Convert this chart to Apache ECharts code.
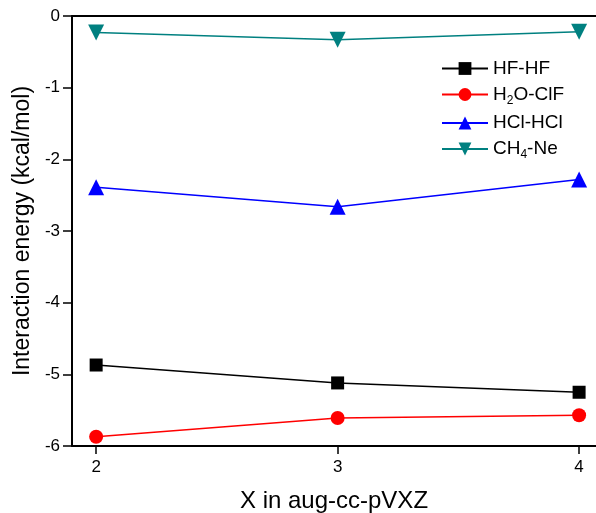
<!DOCTYPE html>
<html>
<head>
<meta charset="utf-8">
<script src="https://cdn.jsdelivr.net/npm/echarts@6/dist/echarts.min.js"></script>
<style>
  html, body { margin: 0; padding: 0; background: #fff; }
  #chart { width: 596px; height: 513px; }
</style>
</head>
<body>
<div id="chart"></div>
<script>
// basis set cardinal number X
const xValues = [2, 3, 4];
const hfhf = [-4.87, -5.12, -5.25];
const h2oclf = [-5.87, -5.61, -5.57];
const hclhcl = [-2.39, -2.66, -2.28];
const ch4ne = [-0.23, -0.33, -0.22];
const seriesNames = ['HF-HF', 'H2O-ClF', 'HCl-HCl', 'CH4-Ne'];

const pairs = arr => xValues.map((x, i) => [x, arr[i]]);
const font = 'Liberation Sans, Arial, sans-serif';

const chart = echarts.init(document.getElementById('chart'));

function mkSeries(name, data, color, symbol, size) {
    return {
        name: name,
        type: 'line',
        data: pairs(data),
        symbol: symbol,
        symbolSize: size,
        symbolRotate: 0,
        lineStyle: { color: color, width: 1.5 },
        itemStyle: { color: color },
        emphasis: { disabled: true }
    };
}

const tri = mkSeries(seriesNames[3], ch4ne, '#008080', 'triangle', 16);
tri.symbolRotate = 180;

chart.setOption({
    animation: false,
    grid: { left: 72, right: 0, top: 16, bottom: 67, containLabel: false, outerBoundsMode: 'none' },
    legend: {
        left: 436,
        top: 54,
        orient: 'vertical',
        itemWidth: 46,
        itemHeight: 16,
        itemGap: 7,
        data: seriesNames,
        formatter: function (n) {
            if (n === 'H2O-ClF') return '{t|H}{s|2}{t|O-ClF}';
            if (n === 'CH4-Ne') return '{t|CH}{s|4}{t|-Ne}';
            return '{t|' + n + '}';
        },
        textStyle: {
            fontFamily: font,
            fontSize: 19,
            color: '#000',
            rich: {
                t: { fontFamily: font, fontSize: 19, color: '#000', height: 22 },
                s: { fontFamily: font, fontSize: 12, color: '#000', padding: [12, 0, 0, 0] }
            }
        }
    },
    xAxis: [{
        type: 'value',
        min: 1.9,
        max: 4.07,
        interval: 1,
        position: 'bottom',
        name: 'X in aug-cc-pVXZ',
        nameLocation: 'middle',
        nameGap: 43,
        nameTextStyle: { fontFamily: font, fontSize: 24, color: '#000' },
        axisLine: { onZero: false, lineStyle: { color: '#000', width: 2 } },
        axisTick: { show: true, length: 8, lineStyle: { color: '#000', width: 1.5 }, customValues: xValues },
        axisLabel: { fontFamily: font, fontSize: 17, color: '#000', margin: 13, customValues: xValues },
        splitLine: { show: false }
    }, {
        type: 'value',
        min: 1.9,
        max: 4.07,
        position: 'top',
        axisLine: { onZero: false, lineStyle: { color: '#000', width: 2 } },
        axisTick: { show: false },
        axisLabel: { show: false },
        splitLine: { show: false }
    }],
    yAxis: {
        type: 'value',
        min: -6,
        max: 0,
        interval: 1,
        name: 'Interaction energy (kcal/mol)',
        nameLocation: 'middle',
        nameGap: 38,
        nameTextStyle: { fontFamily: font, fontSize: 23, color: '#000' },
        axisLine: { show: true, onZero: false, lineStyle: { color: '#000', width: 2 } },
        axisTick: { show: true, length: 9, lineStyle: { color: '#000', width: 1.5 } },
        axisLabel: { fontFamily: font, fontSize: 17, color: '#000', margin: 12 },
        splitLine: { show: false }
    },
    series: [
        mkSeries(seriesNames[0], hfhf, '#000000', 'rect', 13),
        mkSeries(seriesNames[1], h2oclf, '#ff0000', 'circle', 14),
        mkSeries(seriesNames[2], hclhcl, '#0000ff', 'triangle', 16),
        tri
    ]
});
</script>
</body>
</html>
